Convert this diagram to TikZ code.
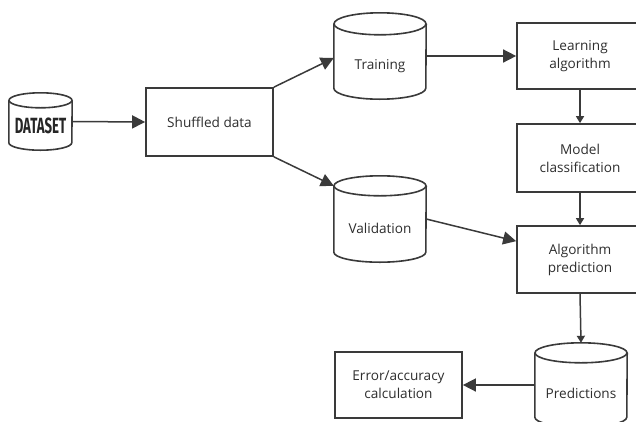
\documentclass[tikz,border=0pt]{standalone}
\usepackage{fontspec}
\setmainfont{Open Sans}
\newfontfamily\dsfont{Fira Sans}
\usetikzlibrary{arrows.meta,calc}
\definecolor{lc}{HTML}{3A3A3A}
\definecolor{tc}{HTML}{2E2E2E}
\tikzset{
  procbox/.style={draw=lc, line width=1.7pt, minimum width=127pt, minimum height=67pt,
    align=center, inner sep=0pt, text=tc, font=\fontsize{13.6}{18}\selectfont},
  cylbox/.style={minimum width=92pt, minimum height=86pt, inner sep=0pt},
  cyltxt/.style={inner sep=0pt, text=tc, font=\fontsize{13.6}{18}\selectfont},
  bigarr/.style={draw=lc, line width=1.5pt, -{Triangle[length=13pt,width=13pt]}},
  smallarr/.style={draw=lc, line width=1.5pt, -{Triangle[length=7pt,width=8pt]}},
}
\newcommand\drawcyl[3]{%
  \draw[draw=lc, line width=1.6pt] ([yshift=-#3pt]#1.north) ellipse [x radius=#2pt, y radius=#3pt];
  \draw[draw=lc, line width=1.6pt] ([yshift=-#3pt]#1.north west) -- ([yshift=#3pt]#1.south west)
    arc[start angle=180, end angle=360, x radius=#2pt, y radius=#3pt] -- ([yshift=-#3pt]#1.north east);
}
\begin{document}
\begin{tikzpicture}[x=1pt,y=-1pt]
\useasboundingbox (0,0) rectangle (636,421);
\clip (0,0) rectangle (636,421);
\fill[white] (0,0) rectangle (636,421);

% cylinders
\node[cylbox, minimum width=63pt, minimum height=57pt] (ds) at (40.5,121.5) {};
\drawcyl{ds}{31.5}{7.5}
\node[inner sep=0pt, text=black!85] (dslbl) at (40.5,126) {\dsfont\fontsize{22}{22}\selectfont\bfseries\scalebox{0.6}[1]{DATASET}};

\node[cylbox] (train) at (380,56) {};
\drawcyl{train}{46}{11}
\node[cyltxt] (trainlbl) at (380,66) {Training};

\node[cylbox] (val) at (380,219) {};
\drawcyl{val}{46}{10}
\node[cyltxt] (vallbl) at (380,228) {Validation};

\node[cylbox, minimum height=84pt] (pred) at (581,385) {};
\drawcyl{pred}{46}{10}
\node[cyltxt] (predlbl) at (581,393) {Predictions};

% boxes
\node[procbox, minimum height=68pt] (shuf) at (209.5,122) {Shuffled data};
\node[procbox, minimum width=126pt, minimum height=66pt] (learn) at (580,56) {Learning\\algorithm};
\node[procbox, minimum width=126pt, minimum height=68pt] (model) at (580,158) {Model\\classification};
\node[procbox, minimum width=126pt, minimum height=67pt] (algp) at (580,259.5) {Algorithm\\prediction};
\node[procbox, minimum height=66pt] (err) at (398.5,385) {Error/accuracy\\calculation};

% connectors
\draw[bigarr] (ds.east) -- (shuf.west);
\draw[bigarr] (shuf.north east) -- ([yshift=-2pt]train.west);
\draw[bigarr] (shuf.south east) -- ([yshift=-10pt]val.north west);
\draw[bigarr] (train.east) -- (learn.west);
\draw[bigarr] (val.east) -- ([yshift=-16pt]algp.north west);
\draw[smallarr] (learn.south) -- (model.north);
\draw[smallarr] (model.south) -- (algp.north);
\draw[smallarr] (algp.south) -- (pred.north);
\draw[bigarr] (pred.west) -- (err.east);
\end{tikzpicture}
\end{document}
